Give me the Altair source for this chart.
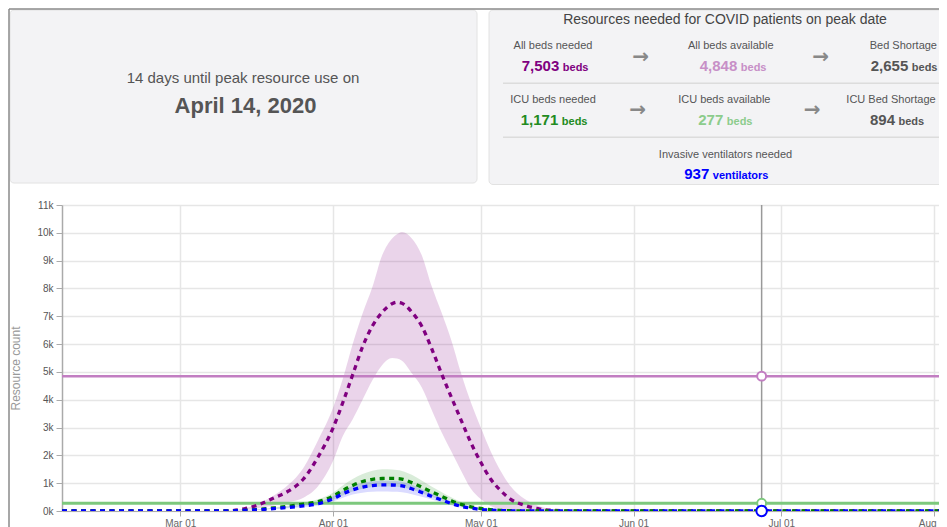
import altair as alt
import pandas as pd

# ---------------- data ----------------
dates = ["2020-02-06", "2020-03-10", "2020-03-14", "2020-03-17", "2020-03-20", "2020-03-23",
         "2020-03-26", "2020-03-29", "2020-04-01", "2020-04-03", "2020-04-05", "2020-04-07",
         "2020-04-09", "2020-04-11", "2020-04-13", "2020-04-14", "2020-04-15", "2020-04-17",
         "2020-04-19", "2020-04-21", "2020-04-23", "2020-04-25", "2020-04-27", "2020-04-29",
         "2020-05-01", "2020-05-03", "2020-05-05", "2020-05-07", "2020-05-10", "2020-05-13",
         "2020-05-16", "2020-05-20", "2020-08-10"]

all_beds = [0, 0, 80, 230, 470, 720, 1150, 1950, 2980, 3900, 4900, 5900, 6650, 7150, 7450, 7503,
            7470, 7150, 6650, 5850, 4950, 4100, 3270, 2450, 1750, 1150, 740, 430, 200, 70, 20, 0, 0]
all_hi = [0, 0, 90, 280, 560, 950, 1550, 2550, 3700, 4750, 6000, 7100, 8050, 9200, 9800, 9950,
          10030, 9800, 9200, 8100, 7150, 6150, 4950, 3900, 3000, 2150, 1450, 900, 420, 160, 50, 0, 0]
all_lo = [0, 0, 40, 110, 200, 320, 480, 900, 1800, 2700, 3300, 4000, 4700, 5250, 5500, 5480,
          5400, 4950, 4450, 3650, 2850, 2150, 1450, 800, 430, 180, 70, 20, 5, 0, 0, 0, 0]

icu = [0, 0, 25, 60, 110, 170, 250, 340, 530, 740, 920, 1060, 1140, 1168, 1171, 1168,
       1150, 1020, 860, 690, 530, 370, 240, 150, 90, 50, 25, 12, 5, 0, 0, 0, 0]
icu_hi = [0, 0, 30, 70, 130, 200, 300, 420, 660, 920, 1150, 1330, 1450, 1500, 1490, 1470,
          1440, 1300, 1100, 880, 680, 490, 320, 200, 120, 70, 35, 15, 5, 0, 0, 0, 0]
icu_lo = [0, 0, 20, 45, 85, 130, 190, 260, 400, 560, 700, 800, 860, 880, 880, 875,
          860, 760, 640, 510, 390, 270, 175, 105, 60, 35, 15, 8, 3, 0, 0, 0, 0]

vent = [0, 0, 20, 45, 85, 130, 185, 260, 440, 620, 760, 860, 915, 937, 935, 925,
        905, 800, 670, 530, 400, 270, 170, 100, 55, 30, 15, 8, 3, 0, 0, 0, 0]
vent_hi = [0, 0, 25, 55, 100, 160, 225, 320, 530, 740, 900, 1010, 1070, 1090, 1085, 1075,
           1050, 940, 790, 630, 480, 330, 210, 125, 70, 40, 20, 10, 4, 0, 0, 0, 0]
vent_lo = [0, 0, 15, 35, 70, 100, 145, 200, 340, 480, 590, 660, 690, 700, 695, 690,
           670, 600, 510, 410, 310, 210, 130, 75, 40, 20, 10, 5, 2, 0, 0, 0, 0]

beds_available = 4848
icu_available = 277
hover_date = "2020-06-27"
hover_values = [4848, 277, 0]

summary_lead = "14 days until peak resource use on"
peak_date_label = "April 14, 2020"
panel_title = "Resources needed for COVID patients on peak date"
metric_labels = ["All beds needed", "All beds available", "Bed Shortage",
                 "ICU beds needed", "ICU beds available", "ICU Bed Shortage",
                 "Invasive ventilators needed"]
metric_numbers = ["7,503", "4,848", "2,655", "1,171", "277", "894", "937"]
metric_units = ["beds", "beds", "beds", "beds", "beds", "beds", "ventilators"]

# ---------------- styling / layout ----------------
FONT = "Liberation Sans"
PURPLE = "#800080"
PURPLE_LIGHT = "#c27ec2"
GREEN = "#008000"
GREEN_LIGHT = "#7dc87d"
BLUE = "#0000ff"

df = pd.DataFrame({"date": dates, "all": all_beds, "all_hi": all_hi, "all_lo": all_lo,
                   "icu": icu, "icu_hi": icu_hi, "icu_lo": icu_lo,
                   "vent": vent, "vent_hi": vent_hi, "vent_lo": vent_lo})
one = pd.DataFrame({"k": [0]})

X_SCALE = alt.Scale(type="utc", domain=[alt.DateTime(year=2020, month=2, date=6, utc=True),
                                        alt.DateTime(year=2020, month=8, date=2, utc=True)])
X_AXIS = alt.Axis(values=[alt.DateTime(year=2020, month=m, date=1, utc=True) for m in range(3, 9)],
                  labelExpr="utcFormat(datum.value, '%b %d')", labelColor="#666", labelFontSize=10,
                  tickSize=5, labelPadding=2, domainColor="#aaa", tickColor="#aaa",
                  gridColor="#e6e6e6", gridWidth=1.5, labelFlush=False)
Y_SCALE = alt.Scale(domain=[0, 11000], nice=False)
Y_AXIS = alt.Axis(values=list(range(0, 11001, 1000)), format="~s", labelColor="#555",
                  labelFontSize=10, tickSize=6, labelPadding=3, domainColor="#aaa",
                  tickColor="#aaa", domainWidth=1.5, gridColor="#e6e6e6", gridWidth=1.5,
                  titleColor="#999", titleFontSize=12, titleFontWeight="normal",
                  titleX=-47, titleY=163, titleAngle=270, titleAlign="center",
                  titleBaseline="middle")


def xenc(field="date:T"):
    return alt.X(field, scale=X_SCALE, axis=X_AXIS, title=None)


def yenc(field):
    return alt.Y(field, type="quantitative", scale=Y_SCALE, axis=Y_AXIS, title="Resource count")


def band(lo, hi, color, op):
    return alt.Chart(df).mark_area(color=color, opacity=op, interpolate="monotone", clip=True).encode(
        x=xenc(), y=yenc(lo), y2=alt.Y2(hi))


def dotted(field, color):
    return alt.Chart(df).mark_line(color=color, strokeWidth=3.3, strokeDash=[5, 4.5],
                                   interpolate="monotone", clip=True).encode(x=xenc(), y=yenc(field))


def hline(value, color, width):
    return alt.Chart(pd.DataFrame({"v": [value]})).mark_rule(color=color, strokeWidth=width).encode(
        y=yenc("v"))


def txt(s, x, y, size=11, color="#555", bold=False, align="center", baseline="alphabetic", font=FONT):
    return alt.Chart(one).mark_text(text=s, fontSize=size, color=color,
                                    fontWeight="bold" if bold else "normal",
                                    align=align, baseline=baseline, font=font).encode(
        x=alt.value(x), y=alt.value(y))


def rect(x, x2, y, y2, fill, stroke):
    return alt.Chart(one).mark_rect(fill=fill, stroke=stroke, strokeWidth=1, cornerRadius=4).encode(
        x=alt.value(x), x2=alt.value(x2), y=alt.value(y), y2=alt.value(y2))


def rule(x, x2, y, y2, color, width):
    return alt.Chart(one).mark_rule(color=color, strokeWidth=width).encode(
        x=alt.value(x), x2=alt.value(x2), y=alt.value(y), y2=alt.value(y2))


layers = []
# chart marks
layers.append(band("all_lo", "all_hi", PURPLE, 0.17))
layers.append(band("icu_lo", "icu_hi", GREEN, 0.15))
layers.append(band("vent_lo", "vent_hi", BLUE, 0.14))
layers.append(hline(beds_available, PURPLE_LIGHT, 2.5))
layers.append(hline(icu_available, GREEN_LIGHT, 3))
layers.append(dotted("all", PURPLE))
layers.append(dotted("icu", GREEN))
layers.append(dotted("vent", BLUE))

hover_df = pd.DataFrame({"date": [hover_date]})
layers.append(alt.Chart(hover_df).mark_rule(color="#999", strokeWidth=1.5).encode(x=xenc()))
for val, col, sz in zip(hover_values, [PURPLE_LIGHT, GREEN_LIGHT, BLUE], [80, 80, 110]):
    layers.append(alt.Chart(pd.DataFrame({"date": [hover_date], "v": [val]})).mark_circle(
        fill="white", stroke=col, strokeWidth=2, size=sz, opacity=1).encode(x=xenc(), y=yenc("v")))

# header panels (coordinates relative to plot origin)
layers.append(rect(-52, 415, -195, -22, "#f3f3f5", "#e2e2e2"))
layers.append(rect(427, 890, -195, -20.5, "#f3f3f5", "#e2e2e2"))
layers.append(rule(-53, 890, -196, -196, "#8a8a8a", 1.5))
layers.append(rule(-53, -53, -196, 330, "#8a8a8a", 1.5))
layers.append(rule(441, 890, -121.7, -121.7, "#dcdcdc", 1.5))
layers.append(rule(441, 890, -67.7, -67.7, "#dcdcdc", 1.5))

layers.append(txt(summary_lead, 181, -122.2, size=15, color="#555"))
layers.append(txt(peak_date_label, 183.5, -92.1, size=22, color="#555", bold=True))
layers.append(txt(panel_title, 663, -180.7, size=14, color="#444"))

label_pos = [(491, -156, "center"), (668.7, -156, "center"), (875, -156, "right"),
             (491, -101.7, "center"), (662.3, -101.7, "center"), (829, -101.7, "center"),
             (663.5, -47, "center")]
number_pos = [(497.3, -133.6), (675.3, -133.6), (846.3, -133.6),
              (496.3, -79.6), (661.3, -79.6), (833, -79.6), (647.3, -25.6)]
metric_colors = [PURPLE, "#c78fc7", "#555555", "#228b22", "#8ccc8c", "#555555", BLUE]

for lab, (lx, ly, la) in zip(metric_labels, label_pos):
    layers.append(txt(lab, lx, ly, size=11, color="#555", align=la))
for num, unit, (nx, ny), col in zip(metric_numbers, metric_units, number_pos, metric_colors):
    layers.append(txt(num, nx, ny, size=15, color=col, bold=True, align="right"))
    layers.append(txt(unit, nx + 3.5, ny, size=11, color=col, bold=True, align="left"))

for ax, ay in [(578.5, -148), (758.7, -148), (575.5, -95), (750, -95)]:
    layers.append(txt("→", ax, ay, size=20, color="#888", bold=True, baseline="middle",
                      font="DejaVu Sans"))

chart = alt.layer(*layers).properties(
    width=877, height=306,
    autosize=alt.AutoSizeParams(type="none"),
    padding={"left": 54, "top": 197, "right": 0, "bottom": 16},
    background="white",
).configure(font=FONT).configure_view(strokeWidth=0)

chart.save("out.html", embed_options={"renderer": "svg", "actions": False})
